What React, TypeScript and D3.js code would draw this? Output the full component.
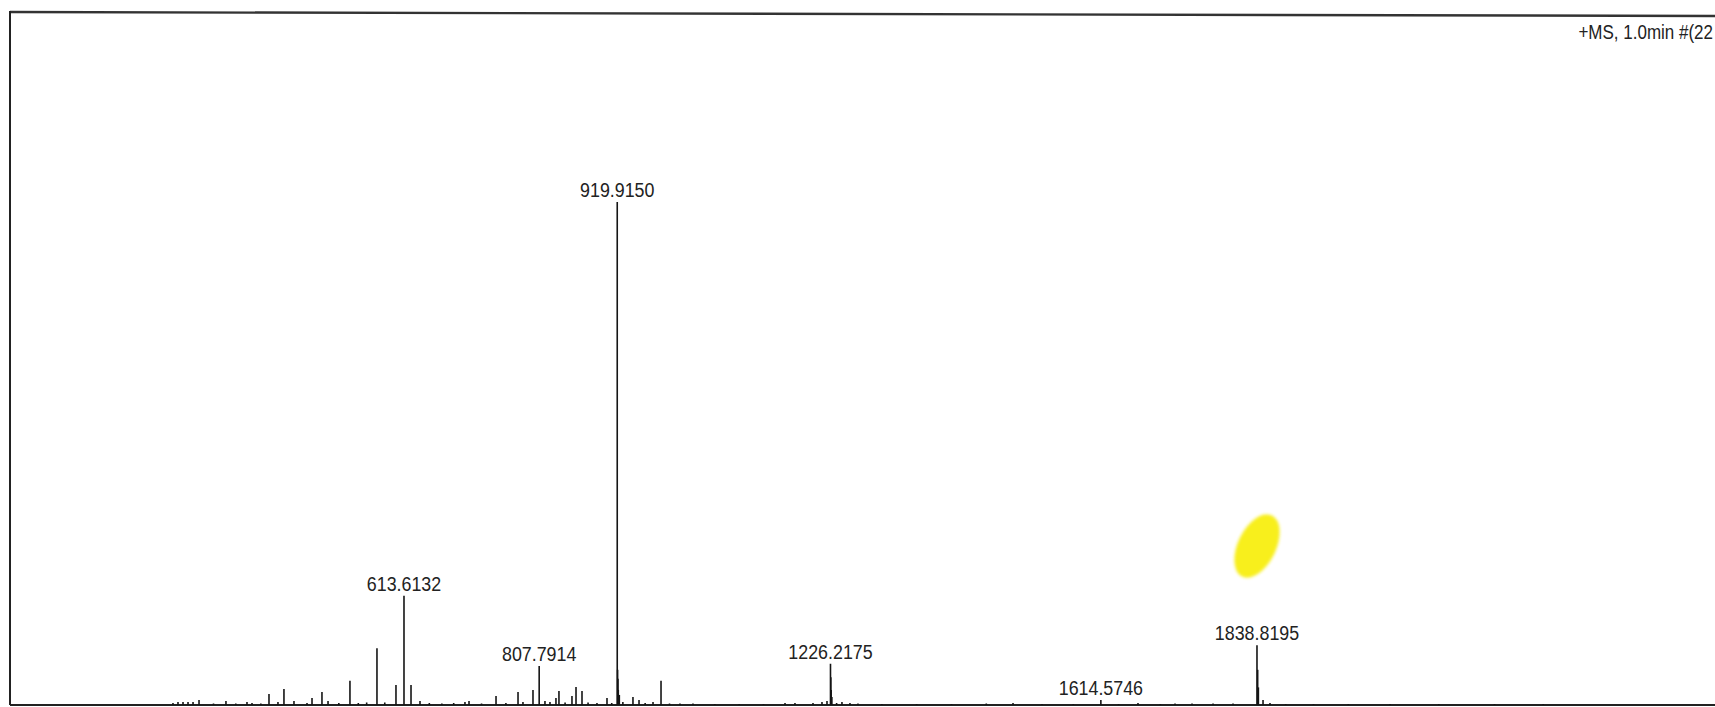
import React from "react";
import * as d3 from "d3";

// Mass spectrum peaks: m/z and relative intensity (%)
const peakMz = [
  281.8, 289.0, 296.2, 303.4, 310.6, 319.2, 340.0, 357.9, 372.0, 388.1, 395.3, 408.0,
  419.7, 432.6, 441.2, 455.6, 474.3, 481.5, 495.8, 504.5, 520.0, 536.0, 548.0, 560.0,
  574.8, 586.0, 602.1, 613.6132, 623.7, 636.6, 650.0, 668.0, 685.0, 701.2, 707.0, 725.0,
  745.8, 760.0, 777.4, 784.5, 798.9, 807.7914, 816.1, 823.3, 831.9, 836.2, 845.0, 854.9,
  860.7, 869.3, 878.0, 890.8, 905.2, 912.0, 919.915, 920.42, 920.92, 921.42, 922.9, 928.0,
  942.5, 951.2, 960.0, 971.3, 982.8, 995.0, 1010.0, 1028.7, 1060.0, 1095.0, 1130.0, 1160.9,
  1175.2, 1201.1, 1214.0, 1221.2, 1226.2175, 1226.72, 1227.22, 1228.2, 1235.0, 1242.7, 1254.2, 1265.7,
  1300.0, 1350.0, 1400.0, 1450.0, 1488.4, 1530.0, 1575.0, 1614.5746, 1640.0, 1667.9, 1700.0, 1721.1,
  1745.5, 1775.7, 1804.4, 1838.8195, 1839.82, 1840.82, 1847.5, 1857.5, 1880.0, 1920.0, 1970.0, 2030.0,
  2100.0, 2180.0, 2250.0,
];
const peakIntensity = [
  0.4, 0.6, 0.6, 0.6, 0.6, 1.0, 0.3, 0.8, 0.3, 0.6, 0.4, 0.3,
  2.2, 0.6, 3.2, 0.8, 0.4, 1.4, 2.6, 0.8, 0.4, 4.8, 0.4, 0.5,
  11.3, 0.5, 4.0, 21.7, 4.0, 0.8, 0.4, 0.3, 0.4, 0.6, 0.8, 0.3,
  1.8, 0.4, 2.6, 0.6, 3.0, 7.75, 0.8, 0.6, 1.4, 2.8, 0.5, 1.8,
  3.6, 2.8, 0.5, 0.4, 1.4, 0.4, 100, 7.0, 5.2, 3.0, 2.0, 0.6,
  1.6, 1.0, 0.4, 0.6, 4.8, 0.3, 0.3, 0.3, 0.2, 0.2, 0.2, 0.4,
  0.4, 0.4, 0.6, 0.8, 8.2, 5.5, 3.0, 1.6, 0.4, 0.6, 0.4, 0.3,
  0.2, 0.2, 0.2, 0.3, 0.4, 0.2, 0.2, 1.0, 0.2, 0.4, 0.2, 0.3,
  0.3, 0.3, 0.3, 11.9, 7.0, 3.5, 1.0, 0.4, 0.2, 0.2, 0.2, 0.2,
  0.2, 0.2, 0.2,
];

// Peaks annotated with their m/z
const labeledMz = [613.6132, 807.7914, 919.915, 1226.2175, 1614.5746, 1838.8195];

const headerText = "+MS, 1.0min #(22";

const W = 1715;
const H = 707;
const left = 10;
const baseY = 705;
const topY = 13;

// condensed lettering: regular sans squeezed horizontally
const squeeze = 0.85;

export default function App() {
  const x = d3.scaleLinear().domain([50, 2500]).range([11.6, 1717.3]);
  const y = d3.scaleLinear().domain([0, 100]).range([baseY, 202]);

  const peaks = peakMz.map((mz, i) => ({ mz, v: peakIntensity[i] }));
  const labels = labeledMz.map((mz) => {
    const p = peaks.find((d) => d.mz === mz)!;
    return { mz, v: p.v };
  });

  const font = "'Liberation Sans', Arial, sans-serif";

  return (
    <svg
      width={W}
      height={H}
      style={{ position: "absolute", left: 0, top: 0, background: "#fff" }}
    >
      <defs>
        <filter id="soft" x="-50%" y="-50%" width="200%" height="200%">
          <feGaussianBlur stdDeviation="1.6" />
        </filter>
      </defs>
      <rect x={0} y={0} width={W} height={H} fill="#fff" />

      {/* frame */}
      <line x1={left} x2={W} y1={topY - 1} y2={topY + 3} stroke="#333" strokeWidth={2.4} />
      <line x1={left} x2={left} y1={topY - 2} y2={baseY} stroke="#222" strokeWidth={2} />
      <line x1={left} x2={W} y1={baseY} y2={baseY} stroke="#222" strokeWidth={2} />

      {/* highlighter mark */}
      <ellipse
        cx={1257}
        cy={546}
        rx={19}
        ry={34}
        transform="rotate(26 1257 546)"
        fill="#f8ef1c"
        filter="url(#soft)"
      />

      {/* spectrum sticks */}
      <g stroke="#151515" strokeWidth={1.6}>
        {peaks.map((d, i) => (
          <line key={i} x1={x(d.mz)} x2={x(d.mz)} y1={baseY} y2={y(d.v)} />
        ))}
      </g>

      {/* peak labels */}
      <g fontFamily={font} fontSize={21} fill="#222" textAnchor="middle">
        {labels.map((d) => (
          <text
            key={d.mz}
            transform={`translate(${x(d.mz)},${y(d.v) - 5}) scale(${squeeze},1)`}
          >
            {d.mz.toFixed(4)}
          </text>
        ))}
      </g>

      <text
        transform={`translate(1713,39) scale(${squeeze},1)`}
        textAnchor="end"
        fontFamily={font}
        fontSize={20}
        fill="#222"
      >
        {headerText}
      </text>
    </svg>
  );
}
